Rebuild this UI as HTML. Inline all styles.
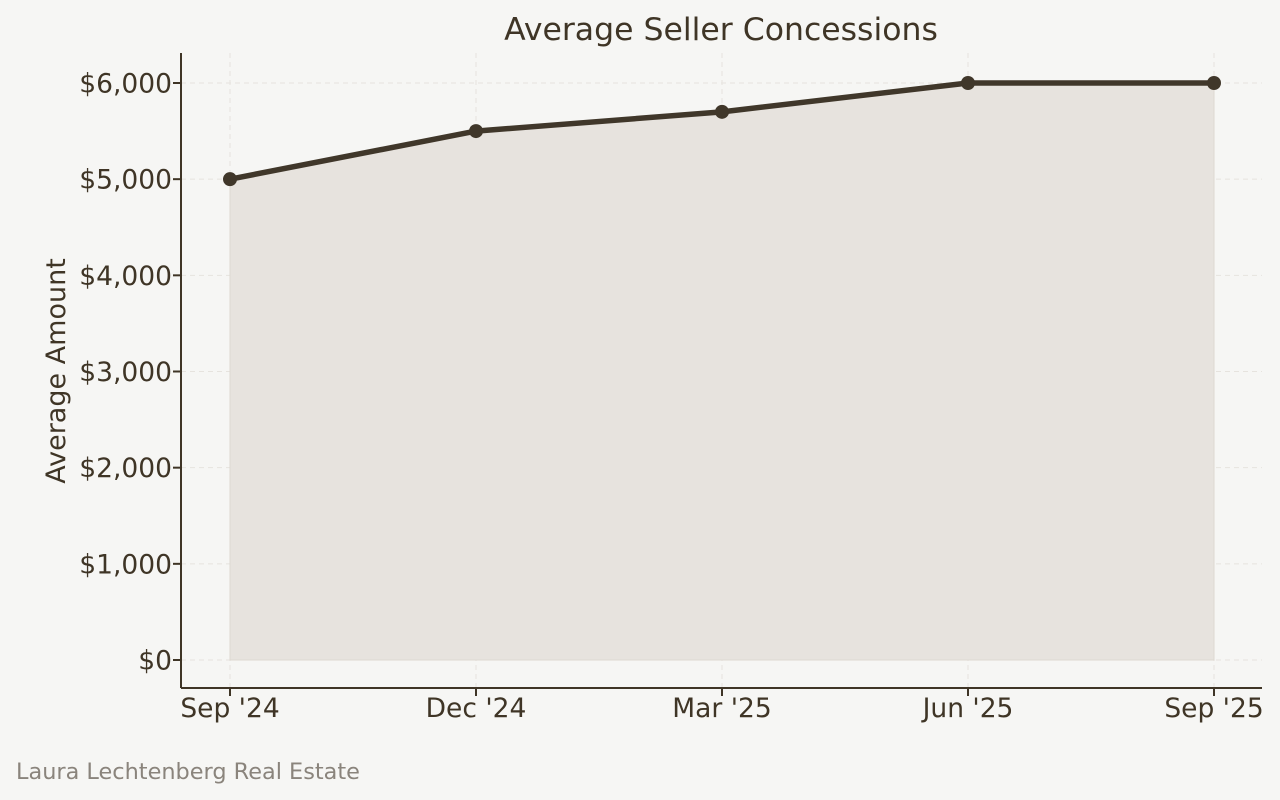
<!DOCTYPE html>
<html><head><meta charset="utf-8"><style>
body{margin:0;background:#f6f6f4;}
svg{display:block;font-family:"DejaVu Sans","Liberation Sans",sans-serif;}
</style></head><body>
<svg id="chart" width="1280" height="800">
<rect width="1280" height="800" fill="#f6f6f4"/>
<text x="721" y="40" text-anchor="middle" font-size="31.5" fill="#3f3526">Average Seller Concessions</text>
<text transform="translate(65,371) rotate(-90)" text-anchor="middle" font-size="27" fill="#3f3526">Average Amount</text>
<g id="grid"></g><g id="area"></g><g id="line"></g><g id="yt"></g><g id="xt"></g>
<line x1="181" y1="53" x2="181" y2="688" stroke="#3f3526" stroke-width="2"/>
<line x1="181" y1="688" x2="1262" y2="688" stroke="#3f3526" stroke-width="2"/>
<text x="16" y="779" font-size="22.4" fill="#8a847c">Laura Lechtenberg Real Estate</text>
</svg>
<script>
const categories=["Sep '24","Dec '24","Mar '25","Jun '25","Sep '25"];
const values=[5000,5500,5700,6000,6000];
const yTicks=[0,1000,2000,3000,4000,5000,6000];
const yTickLabels=["$0","$1,000","$2,000","$3,000","$4,000","$5,000","$6,000"];
const NS="http://www.w3.org/2000/svg";
const x=i=>230+i*(1214-230)/(categories.length-1);
const y=v=>660-v*(660-83)/6000;
function mk(t,a,p){const e=document.createElementNS(NS,t);for(const k in a)e.setAttribute(k,a[k]);document.getElementById(p).appendChild(e);return e;}
yTicks.forEach((v,i)=>{
 const g=mk('line',{x1:181,x2:1262,y1:y(v),y2:y(v),stroke:'#e6e3de','stroke-dasharray':'5,4','stroke-width':1},'grid');
 
 
 const tk=mk('line',{x1:173,x2:181,y1:y(v),y2:y(v),stroke:'#3f3526','stroke-width':2},'yt');
 
 
 const t=mk('text',{x:172,y:y(v)+9.5,'text-anchor':'end','font-size':26.5,fill:'#3f3526'},'yt');
 t.textContent=yTickLabels[i];
 
 
});
categories.forEach((c,i)=>{
 const g=mk('line',{x1:x(i),x2:x(i),y1:53,y2:688,stroke:'#e6e3de','stroke-dasharray':'5,4','stroke-width':1},'grid');
 
 
 const tk=mk('line',{x1:x(i),x2:x(i),y1:688,y2:696,stroke:'#3f3526','stroke-width':2},'xt');
 
 
 const t=mk('text',{x:x(i),y:717,'text-anchor':'middle','font-size':26.5,fill:'#3f3526'},'xt');
 t.textContent=c;
 
 
});
let pts=values.map((v,i)=>x(i)+','+y(v)).join(' ');
const ar=mk('polygon',{points:x(0)+','+y(0)+' '+pts+' '+x(values.length-1)+','+y(0),fill:'#e7e3de',stroke:'#ddd8d1'},'area');


const ln=mk('polyline',{points:pts,fill:'none',stroke:'#40372a','stroke-width':5.5,'stroke-linejoin':'round'},'line');


values.forEach((v,i)=>{
 const p=mk('circle',{cx:x(i),cy:y(v),r:7,fill:'#40372a'},'line');
 
 
});
</script>
</body></html>
